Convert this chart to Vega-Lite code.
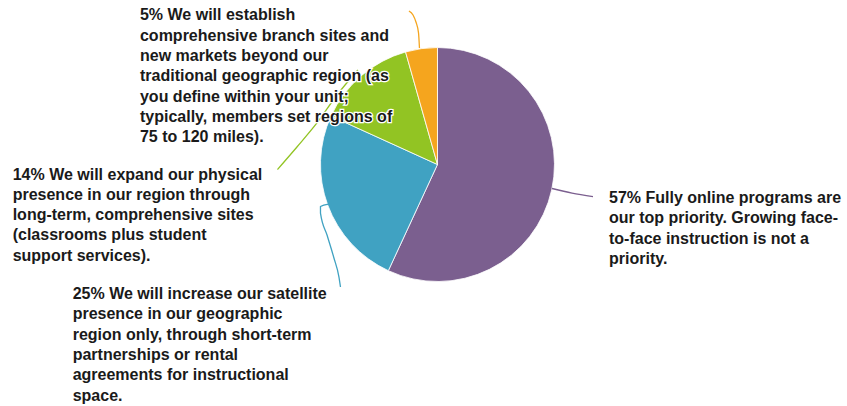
{
  "$schema": "https://vega.github.io/schema/vega-lite/v6.json",
  "width": 847,
  "height": 406,
  "autosize": {"type": "fit", "contains": "padding"},
  "padding": 0,
  "background": "#ffffff",
  "config": {"view": {"stroke": null}},
  "datasets": {
    "slices": [
      {"category": "online", "order": 1, "share": 56.9, "label": "57% Fully online programs are\nour top priority. Growing face-\nto-face instruction is not a\npriority."},
      {"category": "satellite", "order": 2, "share": 24.9, "label": "25% We will increase our satellite\npresence in our geographic\nregion only, through short-term\npartnerships or rental\nagreements for instructional\nspace."},
      {"category": "physical", "order": 3, "share": 13.8, "label": "14% We will expand our physical\npresence in our region through\nlong-term, comprehensive sites\n(classrooms plus student\nsupport services)."},
      {"category": "branch", "order": 4, "share": 4.4, "label": "5% We will establish\ncomprehensive branch sites and\nnew markets beyond our\ntraditional geographic region (as\nyou define within your unit;\ntypically, members set regions of\n75 to 120 miles)."}
    ],
    "leaders": [
      {"category": "branch", "seq": 1, "u": -0.154, "v": 0.996},
      {"category": "branch", "seq": 2, "u": -0.162, "v": 1.124},
      {"category": "branch", "seq": 3, "u": -0.184, "v": 1.218},
      {"category": "branch", "seq": 4, "u": -0.209, "v": 1.278},
      {"category": "branch", "seq": 5, "u": -0.244, "v": 1.312},
      {"category": "physical", "seq": 1, "u": -0.680, "v": 0.808},
      {"category": "physical", "seq": 2, "u": -0.859, "v": 0.594},
      {"category": "physical", "seq": 3, "u": -1.030, "v": 0.355},
      {"category": "physical", "seq": 4, "u": -1.201, "v": 0.150},
      {"category": "physical", "seq": 5, "u": -1.368, "v": -0.043},
      {"category": "satellite", "seq": 1, "u": -0.932, "v": -0.338},
      {"category": "satellite", "seq": 2, "u": -1.000, "v": -0.359},
      {"category": "satellite", "seq": 3, "u": -1.000, "v": -0.415},
      {"category": "satellite", "seq": 4, "u": -0.944, "v": -0.603},
      {"category": "satellite", "seq": 5, "u": -0.885, "v": -0.799},
      {"category": "satellite", "seq": 6, "u": -0.842, "v": -0.962},
      {"category": "satellite", "seq": 7, "u": -0.829, "v": -1.047},
      {"category": "online", "seq": 1, "u": 0.979, "v": -0.205},
      {"category": "online", "seq": 2, "u": 1.150, "v": -0.244},
      {"category": "online", "seq": 3, "u": 1.329, "v": -0.274}
    ]
  },
  "layer": [
    {
      "data": {"name": "slices"},
      "mark": {"type": "arc", "outerRadius": 117, "stroke": "#ffffff", "strokeWidth": 0.8},
      "encoding": {
        "x": {"datum": 0, "type": "quantitative", "scale": {"domain": [-3.739, 3.5], "nice": false, "zero": false}, "axis": null},
        "y": {"datum": 0, "type": "quantitative", "scale": {"domain": [-2.064, 1.406], "nice": false, "zero": false}, "axis": null},
        "theta": {"field": "share", "type": "quantitative", "stack": true},
        "order": {"field": "order", "type": "quantitative"},
        "color": {"field": "category", "type": "nominal", "scale": {"domain": ["online", "satellite", "physical", "branch"], "range": ["#7b5f8f", "#40a2c2", "#92c423", "#f5a51e"]}, "legend": null}
      }
    },
    {
      "data": {"name": "leaders"},
      "mark": {"type": "line", "strokeWidth": 1.3, "interpolate": "monotone"},
      "encoding": {
        "x": {"field": "u", "type": "quantitative", "axis": null},
        "y": {"field": "v", "type": "quantitative", "axis": null},
        "detail": {"field": "category"},
        "order": {"field": "seq", "type": "quantitative"},
        "color": {"field": "category", "type": "nominal", "legend": null}
      }
    },
    {
      "data": {"name": "slices"},
      "transform": [{"filter": "datum.category == 'branch'"}],
      "mark": {"type": "text", "align": "left", "baseline": "alphabetic", "font": "Liberation Sans", "fontSize": 16, "fontWeight": "bold", "lineHeight": 20.3, "lineBreak": "\n", "fill": "#ffffff", "stroke": "#ffffff", "strokeWidth": 2.5},
      "encoding": {
        "x": {"datum": -2.5427, "type": "quantitative", "axis": null},
        "y": {"datum": 1.2308, "type": "quantitative", "axis": null},
        "text": {"field": "label", "type": "nominal"}
      }
    },
    {
      "data": {"name": "slices"},
      "transform": [{"filter": "datum.category == 'branch'"}],
      "mark": {"type": "text", "align": "left", "baseline": "alphabetic", "font": "Liberation Sans", "fontSize": 16, "fontWeight": "bold", "lineHeight": 20.3, "lineBreak": "\n", "fill": "#1a1a1a"},
      "encoding": {
        "x": {"datum": -2.5427, "type": "quantitative", "axis": null},
        "y": {"datum": 1.2308, "type": "quantitative", "axis": null},
        "text": {"field": "label", "type": "nominal"}
      }
    },
    {
      "data": {"name": "slices"},
      "transform": [{"filter": "datum.category == 'physical'"}],
      "mark": {"type": "text", "align": "left", "baseline": "alphabetic", "font": "Liberation Sans", "fontSize": 16, "fontWeight": "bold", "lineHeight": 20.3, "lineBreak": "\n", "fill": "#1a1a1a"},
      "encoding": {
        "x": {"datum": -3.6308, "type": "quantitative", "axis": null},
        "y": {"datum": -0.1282, "type": "quantitative", "axis": null},
        "text": {"field": "label", "type": "nominal"}
      }
    },
    {
      "data": {"name": "slices"},
      "transform": [{"filter": "datum.category == 'satellite'"}],
      "mark": {"type": "text", "align": "left", "baseline": "alphabetic", "font": "Liberation Sans", "fontSize": 16, "fontWeight": "bold", "lineHeight": 20.3, "lineBreak": "\n", "fill": "#1a1a1a"},
      "encoding": {
        "x": {"datum": -3.1179, "type": "quantitative", "axis": null},
        "y": {"datum": -1.1496, "type": "quantitative", "axis": null},
        "text": {"field": "label", "type": "nominal"}
      }
    },
    {
      "data": {"name": "slices"},
      "transform": [{"filter": "datum.category == 'online'"}],
      "mark": {"type": "text", "align": "left", "baseline": "alphabetic", "font": "Liberation Sans", "fontSize": 16, "fontWeight": "bold", "lineHeight": 20.3, "lineBreak": "\n", "fill": "#1a1a1a"},
      "encoding": {
        "x": {"datum": 1.4658, "type": "quantitative", "axis": null},
        "y": {"datum": -0.3291, "type": "quantitative", "axis": null},
        "text": {"field": "label", "type": "nominal"}
      }
    }
  ]
}
